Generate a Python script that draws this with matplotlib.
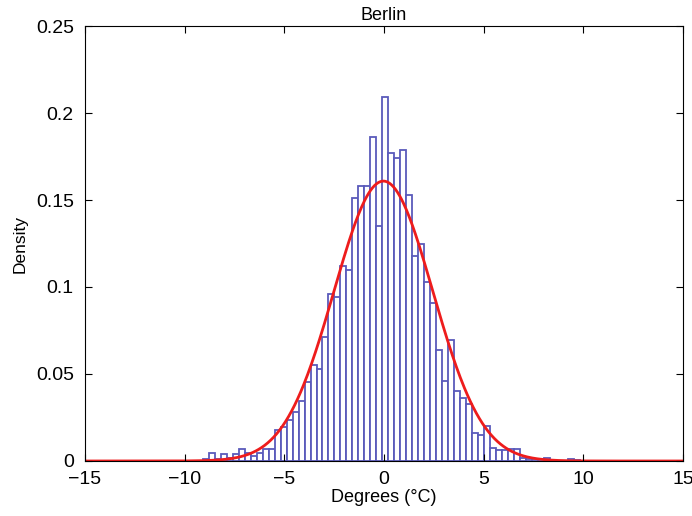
import numpy as np
import matplotlib
matplotlib.use('Agg')
from matplotlib import pyplot as plt

plt.rcParams['font.family'] = ['Liberation Sans', 'DejaVu Sans']

# histogram of daily temperature deviations (density), bin width 0.3
# (empty bins at both ends still draw a flat baseline, as in the original)
bin_width = 0.3
first_edge = -10.885
density = [
    0.0, 0.0, 0.0, 0.0, 0.0, 0.0,
    0.001, 0.0044, 0.0013, 0.004, 0.002, 0.004, 0.0067, 0.0048,
    0.003, 0.0048, 0.007, 0.007, 0.018, 0.0197, 0.0236, 0.028,
    0.0347, 0.0456, 0.0552, 0.0527, 0.0711, 0.096, 0.094, 0.112,
    0.110, 0.151, 0.158, 0.158, 0.186, 0.135,
    0.209,
    0.177, 0.174, 0.179, 0.153, 0.118, 0.125, 0.103, 0.091, 0.064,
    0.046, 0.0695, 0.040, 0.036, 0.0326, 0.016, 0.015, 0.020,
    0.0073, 0.0063, 0.0063, 0.0067, 0.0067, 0.0015, 0.001, 0.001,
    0.001, 0.002, 0.0003, 0.0, 0.0, 0.0013, 0.0005,
    0.0, 0.0, 0.0, 0.0, 0.0, 0.0, 0.0,
]

# fitted normal curve
fit_mu = -0.03
fit_sigma = 2.48

x_ticks = [-15, -10, -5, 0, 5, 10, 15]
y_ticks = [0, 0.05, 0.1, 0.15, 0.2, 0.25]
y_labels = ['0', '0.05', '0.1', '0.15', '0.2', '0.25']

edges = first_edge + bin_width * np.arange(len(density))

fig = plt.figure(figsize=(6.92, 5.16), dpi=100)
ax = fig.add_axes([0.1228, 0.1066, 0.8642, 0.843])
ax.set_axisbelow(False)

ax.bar(edges, density, width=bin_width, align='edge', facecolor='white',
       edgecolor='#5a5abb', linewidth=1.3)

xs = np.linspace(-15, 15, 600)
pdf = np.exp(-0.5 * ((xs - fit_mu) / fit_sigma) ** 2) / (fit_sigma * np.sqrt(2 * np.pi))
ax.plot(xs, pdf, color='#ee1c1c', linewidth=2)

ax.set_xlim(-15, 15)
ax.set_ylim(0, 0.25)
ax.set_xticks(x_ticks)
ax.set_xticklabels(['\u2212' + str(-t) if t < 0 else str(t) for t in x_ticks])
ax.set_yticks(y_ticks)
ax.set_yticklabels(y_labels)
ax.tick_params(direction='in', top=True, right=True, labelsize=14, length=5)
ax.tick_params(axis='x', pad=7)
ax.tick_params(axis='y', pad=8)

ax.set_title('Berlin', fontsize=13, pad=4)
ax.set_xlabel('Degrees (\u00b0C)', fontsize=13, labelpad=1)
ax.set_ylabel('Density', fontsize=12.5, labelpad=6)

fig.savefig('out.png', dpi=100)
